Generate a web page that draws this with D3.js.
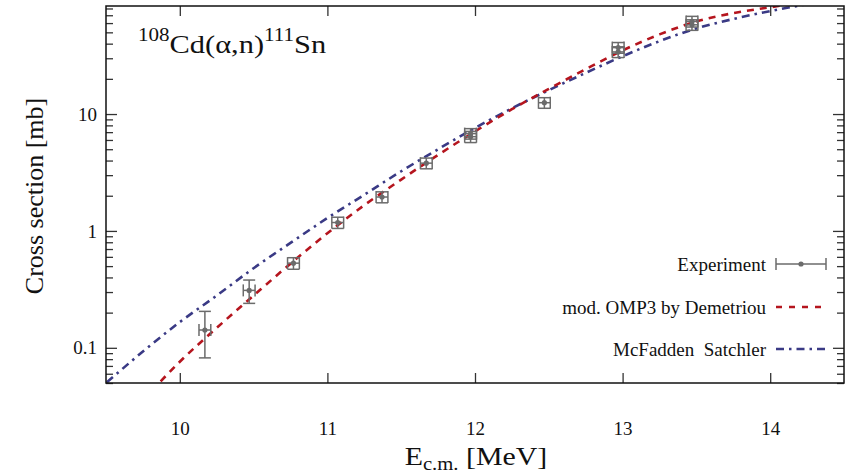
<!DOCTYPE html>
<html><head><meta charset="utf-8">
<script src="https://cdn.jsdelivr.net/npm/d3@7"></script>
<style>
body{margin:0;background:#fff}
text{font-family:"Liberation Serif","Times New Roman",serif;fill:#111}
</style>
</head><body>
<svg id="c" width="852" height="473"></svg>
<script>
// ---- data ----
const expEnergy = [10.17, 10.47, 10.77, 11.07, 11.37, 11.67, 11.97, 11.97, 12.47, 12.97, 12.97, 13.47, 13.47];
const expXs     = [0.142, 0.31, 0.53, 1.18, 1.95, 3.8, 6.4, 6.8, 12.5, 34, 37, 58, 62];
const expErrLo  = [0.060, 0.07, 0.06, 0.13, 0.21, 0.4, 0.7, 0.7, 1.3, 3.6, 3.9, 6, 6.5];
const expErrHi  = [0.063, 0.07, 0.06, 0.13, 0.21, 0.4, 0.7, 0.7, 1.3, 3.6, 3.9, 6, 6.5];
const expEErr   = [0.04, 0.04, 0.04, 0.04, 0.04, 0.04, 0.04, 0.04, 0.04, 0.04, 0.04, 0.04, 0.04];

const omp3Energy = [9.75, 10.0, 10.25, 10.5, 10.75, 11.0, 11.25, 11.5, 11.75, 12.0, 12.25, 12.5, 12.75, 13.0, 13.25, 13.5, 13.75, 14.0, 14.25];
const omp3Xs     = [0.0355, 0.076, 0.148, 0.28, 0.525, 0.955, 1.66, 2.75, 4.47, 7.1, 11.0, 16.4, 24.2, 35, 48, 62, 73, 82, 91];

const mfsEnergy = [9.4, 9.5, 9.75, 10.0, 10.25, 10.5, 10.75, 11.0, 11.25, 11.5, 11.75, 12.0, 12.25, 12.5, 12.75, 13.0, 13.25, 13.5, 13.75, 14.0, 14.25, 14.5];
const mfsXs     = [0.039, 0.050, 0.093, 0.166, 0.28, 0.48, 0.79, 1.29, 2.04, 3.24, 5.0, 7.6, 11.2, 16.0, 22.5, 31.2, 42, 54, 65, 76, 87, 97];

const xTicks = [10, 11, 12, 13, 14];
const yTicks = [0.1, 1, 10];
const legendLabels = ["Experiment", "mod. OMP3 by Demetriou", "McFadden  Satchler"];

// ---- layout ----
const L = 106, R = 844, T = 6, B = 383;
const svg = d3.select("#c");
const x = d3.scaleLinear().domain([9.5, 14.5]).range([L, R]);
const y = d3.scaleLog().domain([0.05, 84]).range([B, T]);

const red = "#b5151e", blue = "#3a3a85", gray = "#6b6b6b";

// minor y ticks
const minor = [];
[0.01, 0.1, 1, 10].forEach(d => { for (let k = 2; k <= 9; k++) { const v = d * k; if (v >= 0.05 && v <= 84) minor.push(v); } });

const axStyle = g => { g.select(".domain").remove(); g.selectAll("line").attr("stroke", "#333").attr("stroke-width", 1.3); };

svg.append("g").attr("transform", `translate(0,${B})`)
  .call(d3.axisBottom(x).tickValues(xTicks).tickSize(-10).tickPadding(39).tickFormat(d3.format("d")))
  .call(axStyle).call(g => g.selectAll("text").attr("font-size", 19).style("font-family", "Liberation Serif"));
svg.append("g").attr("transform", `translate(0,${T})`)
  .call(d3.axisTop(x).tickValues(xTicks).tickSize(-10).tickFormat(""))
  .call(axStyle);
svg.append("g").attr("transform", `translate(${L},0)`)
  .call(d3.axisLeft(y).tickValues(yTicks).tickSize(-11).tickPadding(9).tickFormat(d => d >= 1 ? d3.format("d")(d) : d))
  .call(axStyle).call(g => g.selectAll("text").attr("font-size", 19).style("font-family", "Liberation Serif"));
svg.append("g").attr("transform", `translate(${L},0)`)
  .call(d3.axisLeft(y).tickValues(minor).tickSize(-7).tickFormat(""))
  .call(axStyle);
svg.append("g").attr("transform", `translate(${R},0)`)
  .call(d3.axisRight(y).tickValues(yTicks).tickSize(-11).tickFormat(""))
  .call(axStyle);
svg.append("g").attr("transform", `translate(${R},0)`)
  .call(d3.axisRight(y).tickValues(minor).tickSize(-7).tickFormat(""))
  .call(axStyle);

// clip
svg.append("clipPath").attr("id", "clip").append("rect").attr("x", L).attr("y", T).attr("width", R - L).attr("height", B - T);

// curves
const line = d3.line().x(d => x(d[0])).y(d => y(d[1])).curve(d3.curveMonotoneX);
const g = svg.append("g").attr("clip-path", "url(#clip)");
g.append("path").datum(mfsEnergy.map((e, i) => [e, mfsXs[i]]))
  .attr("d", line).attr("fill", "none").attr("stroke", blue).attr("stroke-width", 2.6).attr("stroke-dasharray", "8,5,2.5,5");
g.append("path").datum(omp3Energy.map((e, i) => [e, omp3Xs[i]]))
  .attr("d", line).attr("fill", "none").attr("stroke", red).attr("stroke-width", 2.6).attr("stroke-dasharray", "7,6");

// experiment points
const cap = 6;
const pts = g.append("g").attr("stroke", gray).attr("stroke-width", 1.5);
expEnergy.forEach((e, i) => {
  const cx = x(e), cy = y(expXs[i]);
  const y0 = y(expXs[i] - expErrLo[i]), y1 = y(expXs[i] + expErrHi[i]);
  const x0 = x(e - expEErr[i]), x1 = x(e + expEErr[i]);
  pts.append("line").attr("x1", cx).attr("x2", cx).attr("y1", y0).attr("y2", y1);
  pts.append("line").attr("x1", cx - cap).attr("x2", cx + cap).attr("y1", y0).attr("y2", y0);
  pts.append("line").attr("x1", cx - cap).attr("x2", cx + cap).attr("y1", y1).attr("y2", y1);
  pts.append("line").attr("x1", x0).attr("x2", x1).attr("y1", cy).attr("y2", cy);
  pts.append("line").attr("x1", x0).attr("x2", x0).attr("y1", cy - cap).attr("y2", cy + cap);
  pts.append("line").attr("x1", x1).attr("x2", x1).attr("y1", cy - cap).attr("y2", cy + cap);
  pts.append("circle").attr("cx", cx).attr("cy", cy).attr("r", 2.6).attr("fill", gray).attr("stroke", "none");
});

// frame
svg.append("rect").attr("x", L).attr("y", T).attr("width", R - L).attr("height", B - T)
  .attr("fill", "none").attr("stroke", "#111").attr("stroke-width", 1.5);

// title
const t = svg.append("text").attr("transform", "translate(138,53) scale(1.17,1)").attr("font-size", 26);
t.append("tspan").text("108").attr("font-size", 18).attr("dy", -12);
t.append("tspan").text("Cd(α,n)").attr("dy", 12);
t.append("tspan").text("111").attr("font-size", 18).attr("dy", -12);
t.append("tspan").text("Sn").attr("dy", 12);

// axis titles
svg.append("text").attr("transform", "translate(43,196) rotate(-90)").attr("text-anchor", "middle").attr("font-size", 26).text("Cross section [mb]");
const xt = svg.append("text").attr("transform", "translate(476,465) scale(1.15,1)").attr("text-anchor", "middle").attr("font-size", 26);
xt.append("tspan").text("E");
xt.append("tspan").text("c.m.").attr("font-size", 18).attr("dy", 5);
xt.append("tspan").text(" [MeV]").attr("dy", -5);

// legend
const ly = [264, 307, 349];
const leg = svg.append("g");
legendLabels.forEach((s, i) => {
  leg.append("text").attr("x", 766).attr("y", ly[i]).attr("dy", "0.35em").attr("text-anchor", "end")
    .attr("font-size", 19).attr("xml:space", "preserve").style("white-space", "pre").text(s);
});
leg.append("line").attr("x1", 776).attr("x2", 826).attr("y1", ly[0]).attr("y2", ly[0]).attr("stroke", gray).attr("stroke-width", 1.5);
leg.append("line").attr("x1", 776).attr("x2", 776).attr("y1", ly[0] - 6).attr("y2", ly[0] + 6).attr("stroke", gray).attr("stroke-width", 1.5);
leg.append("line").attr("x1", 826).attr("x2", 826).attr("y1", ly[0] - 6).attr("y2", ly[0] + 6).attr("stroke", gray).attr("stroke-width", 1.5);
leg.append("circle").attr("cx", 801).attr("cy", ly[0]).attr("r", 2.6).attr("fill", gray);
leg.append("line").attr("x1", 776).attr("x2", 826).attr("y1", ly[1]).attr("y2", ly[1]).attr("stroke", red).attr("stroke-width", 2.6).attr("stroke-dasharray", "6,7");
leg.append("line").attr("x1", 776).attr("x2", 826).attr("y1", ly[2]).attr("y2", ly[2]).attr("stroke", blue).attr("stroke-width", 2.6).attr("stroke-dasharray", "8,5,2.5,5");
</script>
</body></html>
